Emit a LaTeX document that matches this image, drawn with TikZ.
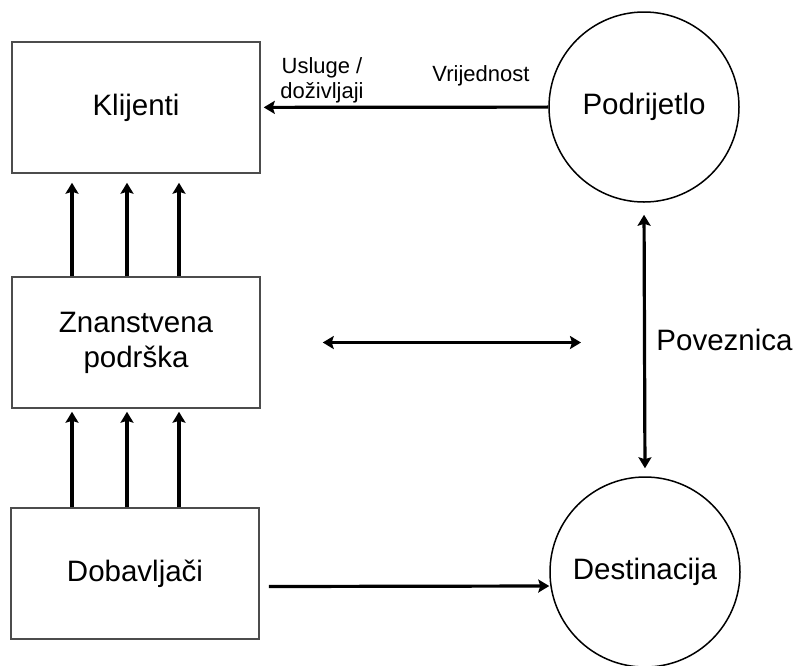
\documentclass[tikz,border=0pt]{standalone}
\usepackage{fontspec}
\setmainfont{Liberation Sans}
\usetikzlibrary{arrows.meta,positioning,calc}
\tikzset{
    block/.style = {
        draw = black!70,
        line width = 1.5pt,
        rectangle,
        minimum width = 248pt,
        minimum height = 131pt,
        align = center,
        font = \fontsize{29.5}{35}\selectfont,
        },
    place/.style = {
        draw,
        line width = 1.5pt,
        circle,
        minimum size = 190pt,
        font = \fontsize{29.5}{35}\selectfont,
        },
    flow/.style = {
        line width = 3.2pt,
        -{Stealth[length=11pt,width=13pt,inset=2pt]},
        },
    both flow/.style = {
        line width = 3.2pt,
        {Stealth[length=11pt,width=13pt,inset=2pt]}-{Stealth[length=11pt,width=13pt,inset=2pt]},
        },
    label text/.style = {
        font = \fontsize{22}{25}\selectfont,
        align = center,
        },
}
\begin{document}
\begin{tikzpicture}[x=1pt, y=-1pt]
            \useasboundingbox (0,0) rectangle (795,665);
            \node[block] (klijenti) at (136,107.5) {Klijenti};
            \node[block] (znanstvena) at (136,342.5) {Znanstvena\\podrška};
            \node[block] (dobavljaci) at (135,573.5) {Dobavljači};
            \node[place] (podrijetlo) at (644,107) {Podrijetlo};
            \node[place] (destinacija) at (645,572) {Destinacija};

            \foreach \x in {72,127,179} {
                \draw[flow, shorten >=9pt] (znanstvena.north -| \x,0) -- (klijenti.south -| \x,0);
                \draw[flow, shorten >=3pt] (dobavljaci.north -| \x,0) -- (znanstvena.south -| \x,0);
            }

            \draw[flow, shorten >=3pt] (podrijetlo) -- (klijenti);
            \node[label text] (usluge) at (322,80) {Usluge /\\doživljaji};
            \node[label text] (vrijednost) at (481,76) {Vrijednost};

            \draw[both flow, shorten <=62pt, shorten >=63pt] (znanstvena.east) -- (znanstvena.east -| podrijetlo.south);
            \draw[both flow, shorten <=12pt, shorten >=8pt] (podrijetlo.south) -- (destinacija.north)
                node[midway, right=7pt, font=\fontsize{29.5}{35}\selectfont] (poveznica) {Poveznica};

            \draw[flow] ([xshift=9pt,yshift=-13pt]dobavljaci.east) -- ([yshift=-14pt]destinacija.west);
        \end{tikzpicture}
\end{document}
